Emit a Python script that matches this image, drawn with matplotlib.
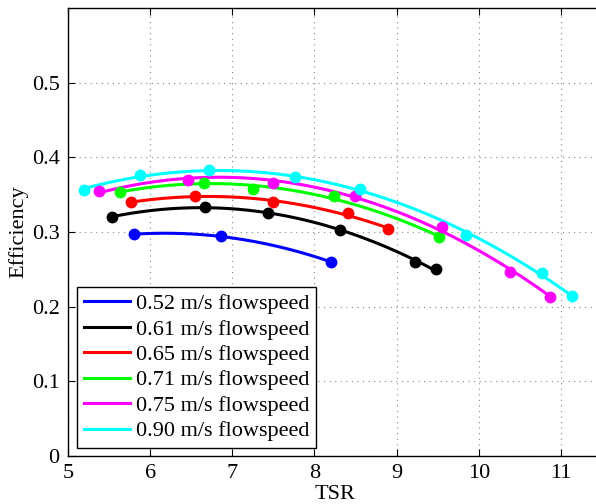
import numpy as np
import matplotlib
matplotlib.use("Agg")
import matplotlib.pyplot as plt

# Data (TSR, efficiency) per flowspeed
labels = ["0.52 m/s flowspeed", "0.61 m/s flowspeed", "0.65 m/s flowspeed",
          "0.71 m/s flowspeed", "0.75 m/s flowspeed", "0.90 m/s flowspeed"]
colors = ["#0000ff", "#000000", "#ff0000", "#00ff00", "#ff00ff", "#00ffff"]

tsr_052 = [5.80, 6.86, 8.20]
eff_052 = [0.297, 0.294, 0.260]
tsr_061 = [5.54, 6.67, 7.44, 8.31, 9.22, 9.48]
eff_061 = [0.320, 0.334, 0.325, 0.303, 0.260, 0.250]
tsr_065 = [5.77, 6.54, 7.50, 8.41, 8.89]
eff_065 = [0.340, 0.348, 0.340, 0.325, 0.304]
tsr_071 = [5.63, 6.66, 7.25, 8.24, 9.52]
eff_071 = [0.354, 0.366, 0.358, 0.348, 0.293]
tsr_075 = [5.38, 6.46, 7.50, 8.49, 9.55, 10.38, 10.87]
eff_075 = [0.355, 0.369, 0.366, 0.348, 0.307, 0.247, 0.213]
tsr_090 = [5.20, 5.88, 6.72, 7.76, 8.56, 9.85, 10.77, 11.13]
eff_090 = [0.356, 0.377, 0.383, 0.373, 0.357, 0.296, 0.245, 0.214]

tsr_sets = [tsr_052, tsr_061, tsr_065, tsr_071, tsr_075, tsr_090]
eff_sets = [eff_052, eff_061, eff_065, eff_071, eff_075, eff_090]

xticks = [5, 6, 7, 8, 9, 10, 11]
yticks = [0, 0.1, 0.2, 0.3, 0.4, 0.5]

plt.rcParams['font.family'] = ['Liberation Serif', 'DejaVu Serif']
FS = 16

W, H = 596, 504
fig = plt.figure(figsize=(W / 100, H / 100), dpi=100)
ax = fig.add_axes([68 / W, 48 / H, 534 / W, 448 / H])

handles = []
for xs, ys, c, lab in zip(tsr_sets, eff_sets, colors, labels):
    xs = np.asarray(xs); ys = np.asarray(ys)
    coef = np.polyfit(xs, ys, 2)
    xf = np.linspace(xs.min(), xs.max(), 200)
    h, = ax.plot(xf, np.polyval(coef, xf), color=c, lw=2.2, label=lab, zorder=3)
    ax.plot(xs, ys, 'o', color=c, ms=7.5, mec=c, zorder=4)
    handles.append(h)

ax.set_xlim(5, 11.5)
ax.set_ylim(0, 0.6)
ax.set_xticks(xticks)
ax.set_yticks(yticks)
ax.set_xticklabels([str(v) for v in xticks])
ax.set_yticklabels(["0"] + [f"{v:.1f}" for v in yticks[1:]])
ax.tick_params(direction='in', length=5, width=0.8, labelsize=FS,
               top=True, right=False, pad=6)
ax.grid(True, linestyle=(0, (1, 4)), color='#888888', linewidth=0.8)
for s in ax.spines.values():
    s.set_linewidth(1.0)
ax.spines['right'].set_visible(False)

ax.set_xlabel("TSR", fontsize=FS, labelpad=1.5)
ax.set_ylabel("Efficiency", fontsize=FS, labelpad=2.5)

leg = ax.legend(handles=handles, loc='lower left',
                bbox_to_anchor=(77 / W, 1 - 448 / H), bbox_transform=fig.transFigure,
                fontsize=FS, frameon=True, fancybox=False, framealpha=1,
                edgecolor='black', borderaxespad=0, handlelength=2.1,
                handletextpad=0.25, labelspacing=0.22, borderpad=0.3)
leg.get_frame().set_linewidth(1.0)

fig.savefig("out.png", dpi=100)
